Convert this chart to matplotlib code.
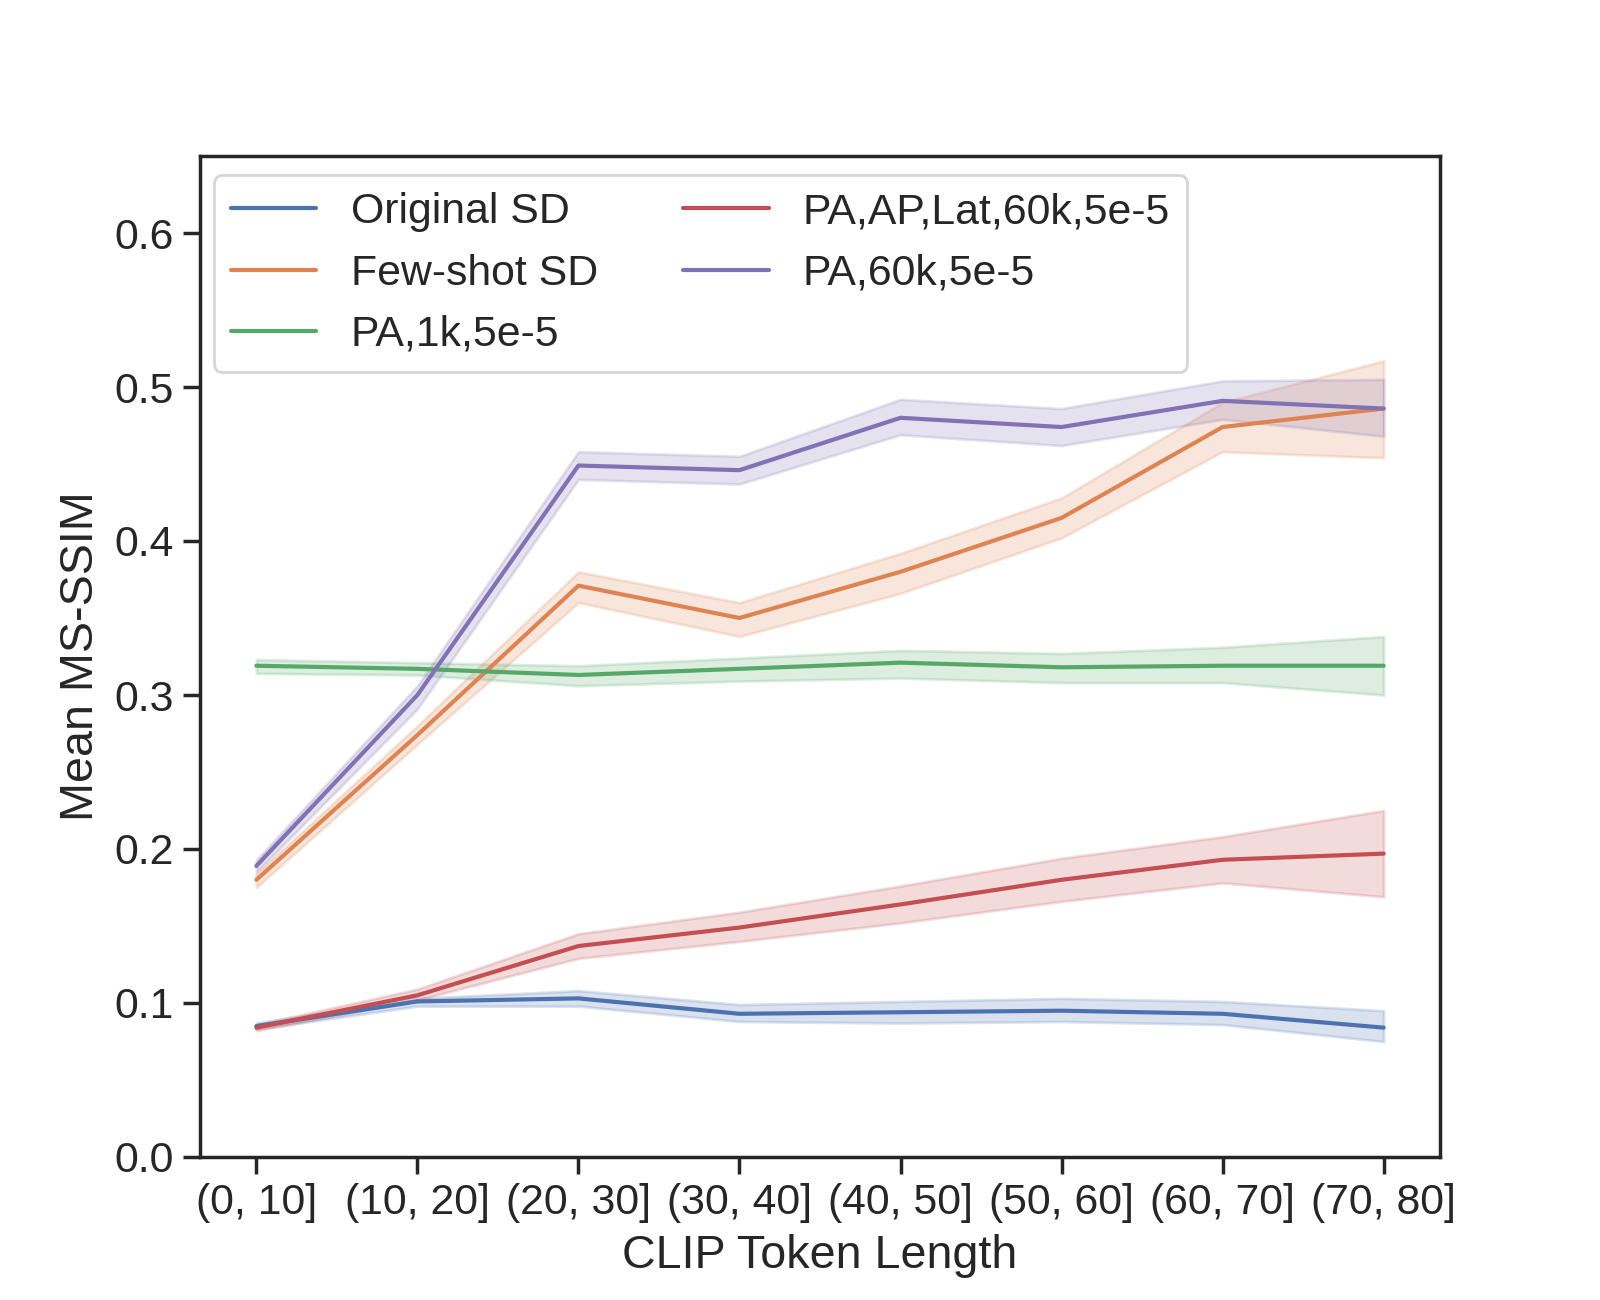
import numpy as np
import matplotlib
matplotlib.use("Agg")
import matplotlib.pyplot as plt
import seaborn as sns

sns.set_style("ticks")
sns.set_context("notebook")
plt.rcParams['font.family'] = ['Liberation Sans', 'DejaVu Sans']

# token length bins
bins = ["(0, 10]", "(10, 20]", "(20, 30]", "(30, 40]",
        "(40, 50]", "(50, 60]", "(60, 70]", "(70, 80]"]

# mean MS-SSIM per model, with lower/upper band
orig_mean = [0.085, 0.101, 0.103, 0.093, 0.094, 0.095, 0.093, 0.084]
orig_lo   = [0.083, 0.098, 0.098, 0.088, 0.087, 0.088, 0.086, 0.075]
orig_hi   = [0.087, 0.103, 0.108, 0.099, 0.101, 0.103, 0.101, 0.095]

fews_mean = [0.180, 0.274, 0.371, 0.350, 0.380, 0.415, 0.474, 0.486]
fews_lo   = [0.175, 0.268, 0.360, 0.338, 0.366, 0.402, 0.458, 0.454]
fews_hi   = [0.184, 0.280, 0.380, 0.360, 0.392, 0.428, 0.490, 0.517]

pa1k_mean = [0.319, 0.317, 0.313, 0.317, 0.321, 0.318, 0.319, 0.319]
pa1k_lo   = [0.314, 0.313, 0.306, 0.309, 0.311, 0.308, 0.308, 0.300]
pa1k_hi   = [0.323, 0.321, 0.319, 0.324, 0.329, 0.327, 0.331, 0.338]

lat_mean  = [0.084, 0.105, 0.137, 0.149, 0.164, 0.180, 0.193, 0.197]
lat_lo    = [0.082, 0.102, 0.129, 0.140, 0.152, 0.166, 0.178, 0.169]
lat_hi    = [0.086, 0.109, 0.145, 0.159, 0.176, 0.194, 0.208, 0.225]

pa60_mean = [0.189, 0.300, 0.449, 0.446, 0.480, 0.474, 0.491, 0.486]
pa60_lo   = [0.185, 0.291, 0.440, 0.437, 0.469, 0.462, 0.479, 0.468]
pa60_hi   = [0.193, 0.306, 0.458, 0.455, 0.492, 0.486, 0.504, 0.505]

labels = ["Original SD", "Few-shot SD", "PA,1k,5e-5", "PA,AP,Lat,60k,5e-5", "PA,60k,5e-5"]
means = [orig_mean, fews_mean, pa1k_mean, lat_mean, pa60_mean]
los = [orig_lo, fews_lo, pa1k_lo, lat_lo, pa60_lo]
his = [orig_hi, fews_hi, pa1k_hi, lat_hi, pa60_hi]
colors = sns.color_palette("deep")

fig, ax = plt.subplots(figsize=(8, 6.5), dpi=200)
x = np.arange(len(bins))
for i in range(len(labels)):
    ax.plot(x, means[i], color=colors[i], lw=1.5, label=labels[i])
    ax.fill_between(x, los[i], his[i], color=colors[i], alpha=0.2)

ax.set_xticks(x)
ax.set_xticklabels(bins, fontsize=15.4)
ax.tick_params(axis='y', labelsize=15.4)
ax.set_ylim(0, 0.65)
ax.set_yticks([0.0, 0.1, 0.2, 0.3, 0.4, 0.5, 0.6])
ax.set_xlabel("CLIP Token Length", fontsize=16.8)
ax.set_ylabel("Mean MS-SSIM", fontsize=16.8)
ax.legend(ncol=2, loc="upper left", bbox_to_anchor=(0.011, 0.981),
          borderaxespad=0, fontsize=15.4)

fig.savefig("out.png", dpi=200)
